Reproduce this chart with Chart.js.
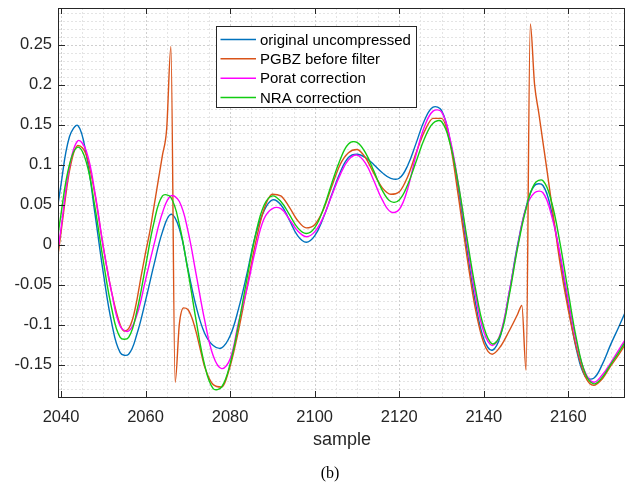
<!DOCTYPE html>
<html><head><meta charset="utf-8">
<script src="https://cdn.jsdelivr.net/npm/chart.js@4.4.1/dist/chart.umd.min.js"></script>
<style>html,body{margin:0;padding:0;background:#fff;}canvas{display:block;}</style>
</head><body>
<canvas id="c" width="643" height="486"></canvas>
<script>
// ---- data ----
const samples = [2038,2040,2042,2044,2046,2048,2050,2052,2054,2056,2058,2060,2062,2064,2066,2068,2070,2072,2074,2076,2078,2080,2082,2084,2086,2088,2090,2092,2094,2096,2098,2100,2102,2104,2106,2108,2110,2112,2114,2116,2118,2120,2122,2124,2126,2128,2130,2132,2134,2136,2138,2140,2142,2144,2146,2148,2150,2152,2154,2156,2158,2160,2162,2164,2166,2168,2170,2172,2174];
const originalUncompressed = [0.000,0.075,0.135,0.149,0.112,0.040,-0.035,-0.098,-0.135,-0.137,-0.111,-0.070,-0.025,0.016,0.038,0.020,-0.030,-0.078,-0.111,-0.126,-0.129,-0.114,-0.080,-0.036,0.012,0.042,0.056,0.050,0.031,0.011,0.003,0.011,0.033,0.062,0.090,0.109,0.113,0.109,0.100,0.090,0.083,0.083,0.099,0.127,0.156,0.172,0.168,0.131,0.069,-0.005,-0.072,-0.118,-0.132,-0.113,-0.060,0.000,0.047,0.074,0.074,0.042,-0.014,-0.077,-0.133,-0.165,-0.167,-0.150,-0.125,-0.102,-0.078];
const poratCorrection = [-0.055,0.020,0.097,0.130,0.117,0.066,-0.002,-0.060,-0.102,-0.108,-0.087,-0.044,0.000,0.040,0.061,0.054,0.018,-0.038,-0.095,-0.139,-0.155,-0.143,-0.097,-0.055,-0.006,0.032,0.045,0.045,0.032,0.017,0.010,0.016,0.034,0.061,0.087,0.106,0.112,0.102,0.080,0.056,0.041,0.044,0.070,0.113,0.148,0.167,0.166,0.133,0.075,0.004,-0.062,-0.109,-0.126,-0.110,-0.060,-0.002,0.046,0.065,0.065,0.037,-0.011,-0.070,-0.124,-0.160,-0.172,-0.163,-0.148,-0.131,-0.114];
const nraCorrection = [-0.040,0.038,0.100,0.122,0.103,0.048,-0.020,-0.080,-0.116,-0.116,-0.082,-0.027,0.028,0.061,0.059,0.025,-0.032,-0.096,-0.151,-0.180,-0.178,-0.149,-0.100,-0.042,0.012,0.049,0.061,0.054,0.038,0.021,0.014,0.021,0.044,0.076,0.106,0.126,0.128,0.115,0.092,0.068,0.054,0.056,0.075,0.104,0.133,0.152,0.154,0.127,0.075,0.009,-0.054,-0.103,-0.124,-0.112,-0.064,-0.004,0.045,0.076,0.080,0.054,0.003,-0.060,-0.120,-0.161,-0.174,-0.166,-0.150,-0.134,-0.117];
const pgbzSamples = [2038,2040,2042,2044,2046,2048,2050,2052,2054,2055,2056,2057,2058,2059,2060,2061,2062,2063,2064,2065,2066,2067,2068,2069,2070,2071,2072,2073,2074,2076,2078,2080,2082,2084,2086,2088,2090,2092,2094,2096,2098,2100,2102,2104,2106,2108,2110,2112,2114,2116,2118,2120,2122,2124,2126,2128,2130,2132,2134,2136,2138,2140,2142,2144,2146,2148,2149,2150,2151,2152,2153,2154,2155,2156,2157,2158,2160,2162,2164,2166,2168,2170,2172,2174];
const pgbzBeforeFilter = [-0.065,0.015,0.092,0.124,0.112,0.064,-0.003,-0.060,-0.100,-0.108,-0.105,-0.092,-0.068,-0.038,-0.010,0.016,0.048,0.080,0.112,0.145,0.248,-0.172,-0.099,-0.079,-0.081,-0.092,-0.110,-0.132,-0.153,-0.175,-0.178,-0.152,-0.107,-0.053,0.002,0.044,0.063,0.061,0.047,0.030,0.021,0.025,0.043,0.072,0.100,0.115,0.119,0.109,0.089,0.071,0.063,0.066,0.085,0.115,0.142,0.158,0.158,0.128,0.060,-0.014,-0.080,-0.123,-0.137,-0.127,-0.108,-0.087,-0.076,-0.157,0.276,0.201,0.165,0.128,0.091,0.053,0.015,-0.022,-0.082,-0.131,-0.165,-0.176,-0.168,-0.152,-0.137,-0.120];
const seriesNames = ['original uncompressed','PGBZ before filter','Porat correction','NRA correction'];
const xTickLabels = [2040,2060,2080,2100,2120,2140,2160];
const yTickLabels = [-0.15,-0.1,-0.05,0,0.05,0.1,0.15,0.2,0.25];
const xLimits = [2039.53, 2173.4];
const yLimits = [-0.1905, 0.296];

// ---- styling ----
const FONT = '"Liberation Sans", Arial, Helvetica, sans-serif';
const TEXT = '#262626';
const colors = ['#0072BD', '#D95319', '#FF00FF', '#12CC12'];

const toPts = (xs, ys) => xs.map((s, i) => ({x: s, y: ys[i]}));

function isMult(v, step) { const r = v / step; return Math.abs(r - Math.round(r)) < 1e-6; }

const matlabAxes = {
  id: 'matlabAxes',
  beforeDatasetsDraw(chart) {
    const {ctx, chartArea: a, scales: {x, y}} = chart;
    ctx.save();
    ctx.lineWidth = 1;
    ctx.setLineDash([2, 2]);
    const drawV = (v, col) => {
      const px = Math.round(x.getPixelForValue(v)) + 0.5;
      ctx.strokeStyle = col; ctx.beginPath(); ctx.moveTo(px, a.top); ctx.lineTo(px, a.bottom); ctx.stroke();
    };
    const drawH = (v, col) => {
      const py = Math.round(y.getPixelForValue(v)) + 0.5;
      ctx.strokeStyle = col; ctx.beginPath(); ctx.moveTo(a.left, py); ctx.lineTo(a.right, py); ctx.stroke();
    };
    for (let k = Math.ceil(x.min / 5); k * 5 <= x.max; k++) { if (!isMult(k * 5, 20)) drawV(k * 5, '#e4e4e4'); }
    for (let k = Math.ceil(y.min * 100); k <= Math.floor(y.max * 100); k++) { if (!isMult(k / 100, 0.05)) drawH(k / 100, '#e4e4e4'); }
    xTickLabels.forEach(v => drawV(v, '#cfcfcf'));
    yTickLabels.forEach(v => drawH(v, '#cfcfcf'));
    ctx.restore();
  },
  afterDraw(chart) {
    const {ctx, chartArea: a, scales: {x, y}} = chart;
    ctx.save();
    ctx.setLineDash([]);
    ctx.strokeStyle = TEXT;
    ctx.lineWidth = 1;
    ctx.strokeRect(Math.round(a.left) - 0.5, Math.round(a.top) + 0.5, Math.round(a.right - a.left), Math.round(a.bottom - a.top));
    const TL = 6;
    ctx.beginPath();
    xTickLabels.forEach(v => {
      const px = Math.round(x.getPixelForValue(v)) + 0.5;
      ctx.moveTo(px, a.bottom); ctx.lineTo(px, a.bottom - TL);
      ctx.moveTo(px, a.top); ctx.lineTo(px, a.top + TL);
    });
    yTickLabels.forEach(v => {
      const py = Math.round(y.getPixelForValue(v)) + 0.5;
      ctx.moveTo(a.left, py); ctx.lineTo(a.left + TL, py);
      ctx.moveTo(a.right, py); ctx.lineTo(a.right - TL, py);
    });
    ctx.stroke();

    // legend
    const lx = 216.5, ly = 26.5, lw = 200, lh = 81;
    ctx.fillStyle = '#ffffff';
    ctx.fillRect(lx, ly, lw, lh);
    ctx.strokeStyle = TEXT;
    ctx.strokeRect(lx, ly, lw, lh);
    ctx.font = '15px ' + FONT;
    ctx.textBaseline = 'middle';
    ctx.textAlign = 'left';
    const rowsY = [39.5, 58.8, 78.2, 97.5];
    chart.data.datasets.forEach((ds) => {
      const ry = rowsY[ds.legendIndex];
      ctx.strokeStyle = ds.borderColor;
      ctx.lineWidth = 1.4;
      ctx.beginPath(); ctx.moveTo(220.5, ry); ctx.lineTo(256, ry); ctx.stroke();
      ctx.fillStyle = '#000000';
      ctx.fillText(ds.label, 260, ry + 1);
    });

    // caption
    ctx.font = '16px "Liberation Serif", "Times New Roman", serif';
    ctx.textAlign = 'center';
    ctx.fillStyle = '#000000';
    ctx.fillText('(b)', 330, 474);
    ctx.restore();
  }
};

const lineDs = (label, idx, pts, extra) => Object.assign({
  label: label, legendIndex: idx, data: pts, borderColor: colors[idx], backgroundColor: colors[idx],
  borderWidth: 1.4, pointRadius: 0, fill: false, tension: 0.4, clip: 0, order: 3 - idx
}, extra || {});

new Chart(document.getElementById('c'), {
  type: 'line',
  data: {
    datasets: [
      lineDs(seriesNames[0], 0, toPts(samples, originalUncompressed)),
      lineDs(seriesNames[1], 1, toPts(pgbzSamples, pgbzBeforeFilter), {cubicInterpolationMode: 'monotone'}),
      lineDs(seriesNames[2], 2, toPts(samples, poratCorrection)),
      lineDs(seriesNames[3], 3, toPts(samples, nraCorrection))
    ]
  },
  options: {
    responsive: false,
    animation: false,
    devicePixelRatio: 1,
    layout: {padding: {left: 0, right: 18, top: 8, bottom: 0}},
    plugins: {legend: {display: false}, tooltip: {enabled: false}},
    scales: {
      x: {
        type: 'linear', min: xLimits[0], max: xLimits[1], bounds: 'data',
        afterBuildTicks: s => { s.ticks = xTickLabels.map(v => ({value: v})); },
        afterFit: s => { s.height = 89; s.paddingLeft = 0; s.paddingRight = 0; s.paddingTop = 0; s.paddingBottom = 0; },
        grid: {display: false, drawTicks: false}, border: {display: false},
        ticks: {padding: 11, autoSkip: false, maxRotation: 0, color: TEXT,
          font: {family: FONT, size: 16.5}, callback: v => String(v)},
        title: {display: true, text: 'sample', color: TEXT, font: {family: FONT, size: 18},
          padding: {top: 0, bottom: 35}}
      },
      y: {
        type: 'linear', min: yLimits[0], max: yLimits[1], bounds: 'data',
        afterBuildTicks: s => { s.ticks = yTickLabels.map(v => ({value: v})); },
        afterFit: s => { s.width = 59; s.paddingTop = 0; s.paddingBottom = 0; s.paddingLeft = 0; s.paddingRight = 0; },
        grid: {display: false, drawTicks: false}, border: {display: false},
        ticks: {padding: 7, autoSkip: false, color: TEXT,
          font: {family: FONT, size: 16.5}, callback: v => String(Number(v.toFixed(2)))}
      }
    }
  },
  plugins: [matlabAxes]
});
</script>
</body></html>
